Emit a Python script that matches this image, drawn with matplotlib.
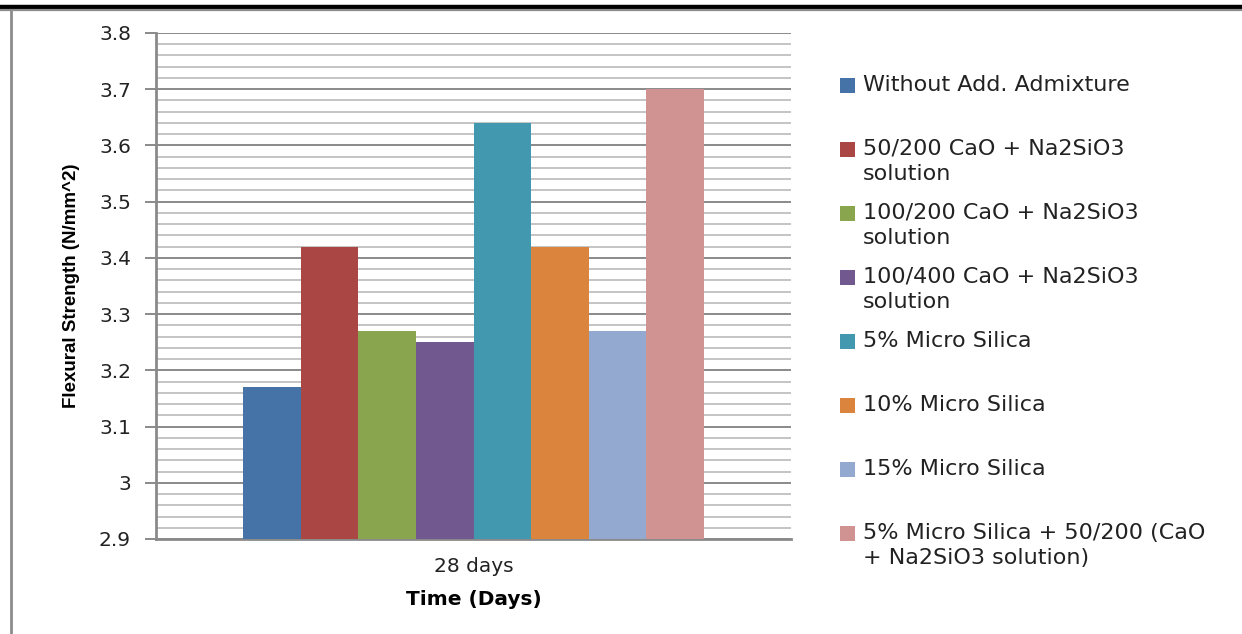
import matplotlib
matplotlib.use("Agg")
import matplotlib.pyplot as plt
from matplotlib.patches import Rectangle
from matplotlib.ticker import MultipleLocator
from matplotlib.lines import Line2D

# data
series = [
    "Without Add. Admixture",
    "50/200 CaO + Na2SiO3\nsolution",
    "100/200 CaO + Na2SiO3\nsolution",
    "100/400 CaO + Na2SiO3\nsolution",
    "5% Micro Silica",
    "10% Micro Silica",
    "15% Micro Silica",
    "5% Micro Silica + 50/200 (CaO\n+ Na2SiO3 solution)",
]
values = [3.17, 3.42, 3.27, 3.25, 3.64, 3.42, 3.27, 3.70]
colors = ["#4572A7", "#AA4643", "#89A54E", "#71588F",
          "#4198AF", "#DB843D", "#93A9CF", "#D19392"]
category = "28 days"
y_ticks = [2.9, 3.0, 3.1, 3.2, 3.3, 3.4, 3.5, 3.6, 3.7, 3.8]
y_labels = ["2.9", "3", "3.1", "3.2", "3.3", "3.4", "3.5", "3.6", "3.7", "3.8"]

W, H = 1242, 634
fig = plt.figure(figsize=(W / 100, H / 100), dpi=100)

# page decorations: black rule at the top and grey frame on the left
fig.add_artist(Line2D([0, 1], [1 - 7 / H, 1 - 7 / H], color="black", lw=3.2))
fig.add_artist(Line2D([0, 1], [1 - 10 / H, 1 - 10 / H], color="#8c8c8c", lw=1.6))
fig.add_artist(Line2D([11 / W, 11 / W], [0, 1 - 10 / H], color="#8c8c8c", lw=2))

ax = fig.add_axes([156 / W, 1 - 539 / H, (791 - 156) / W, (539 - 33) / H])

n = len(values)
group = 0.726
bw = group / n
for i, (v, c) in enumerate(zip(values, colors)):
    ax.bar((i - (n - 1) / 2) * bw, v, width=bw, color=c, edgecolor="none", zorder=3)

ax.set_xlim(-0.5, 0.5)
ax.set_ylim(2.9, 3.8)
ax.set_yticks(y_ticks)
ax.set_yticklabels(y_labels, fontsize=14.5, color="#222222")
ax.yaxis.set_minor_locator(MultipleLocator(0.02))
ax.set_axisbelow(True)
ax.grid(which="major", axis="y", color="#8a8a8a", lw=1.4)
ax.grid(which="minor", axis="y", color="#c4c4c4", lw=1.4)
ax.tick_params(axis="y", which="major", length=8, width=1.4, color="#8a8a8a", pad=10)
ax.tick_params(axis="y", which="minor", length=0)
ax.set_xticks([0])
ax.set_xticklabels([category], fontsize=14.5, color="#222222")
ax.tick_params(axis="x", length=0, pad=13)

for s in ["top", "right"]:
    ax.spines[s].set_visible(False)
for s in ["left", "bottom"]:
    ax.spines[s].set_color("#8a8a8a")
    ax.spines[s].set_linewidth(2)

ax.set_xlabel("Time (Days)", fontsize=14.5, fontweight="bold", labelpad=10)
ax.set_ylabel("Flexural Strength (N/mm^2)", fontsize=13.5, fontweight="bold",
              family=["Liberation Sans", "DejaVu Sans"], labelpad=14)

# legend drawn as in the spreadsheet: fixed slots, marker on the first line
top_y = 85
slot = 64
line_h = 25
for i, (lab, c) in enumerate(zip(series, colors)):
    yc = top_y + i * slot
    fig.add_artist(Rectangle((840 / W, 1 - (yc + 7.5) / H), 15 / W, 15 / H,
                             facecolor=c, edgecolor="none"))
    for j, line in enumerate(lab.split("\n")):
        fig.text(863 / W, 1 - (yc + j * line_h) / H, line, fontsize=16,
                 va="center", ha="left", color="#222222")

fig.savefig("out.png", dpi=100)
